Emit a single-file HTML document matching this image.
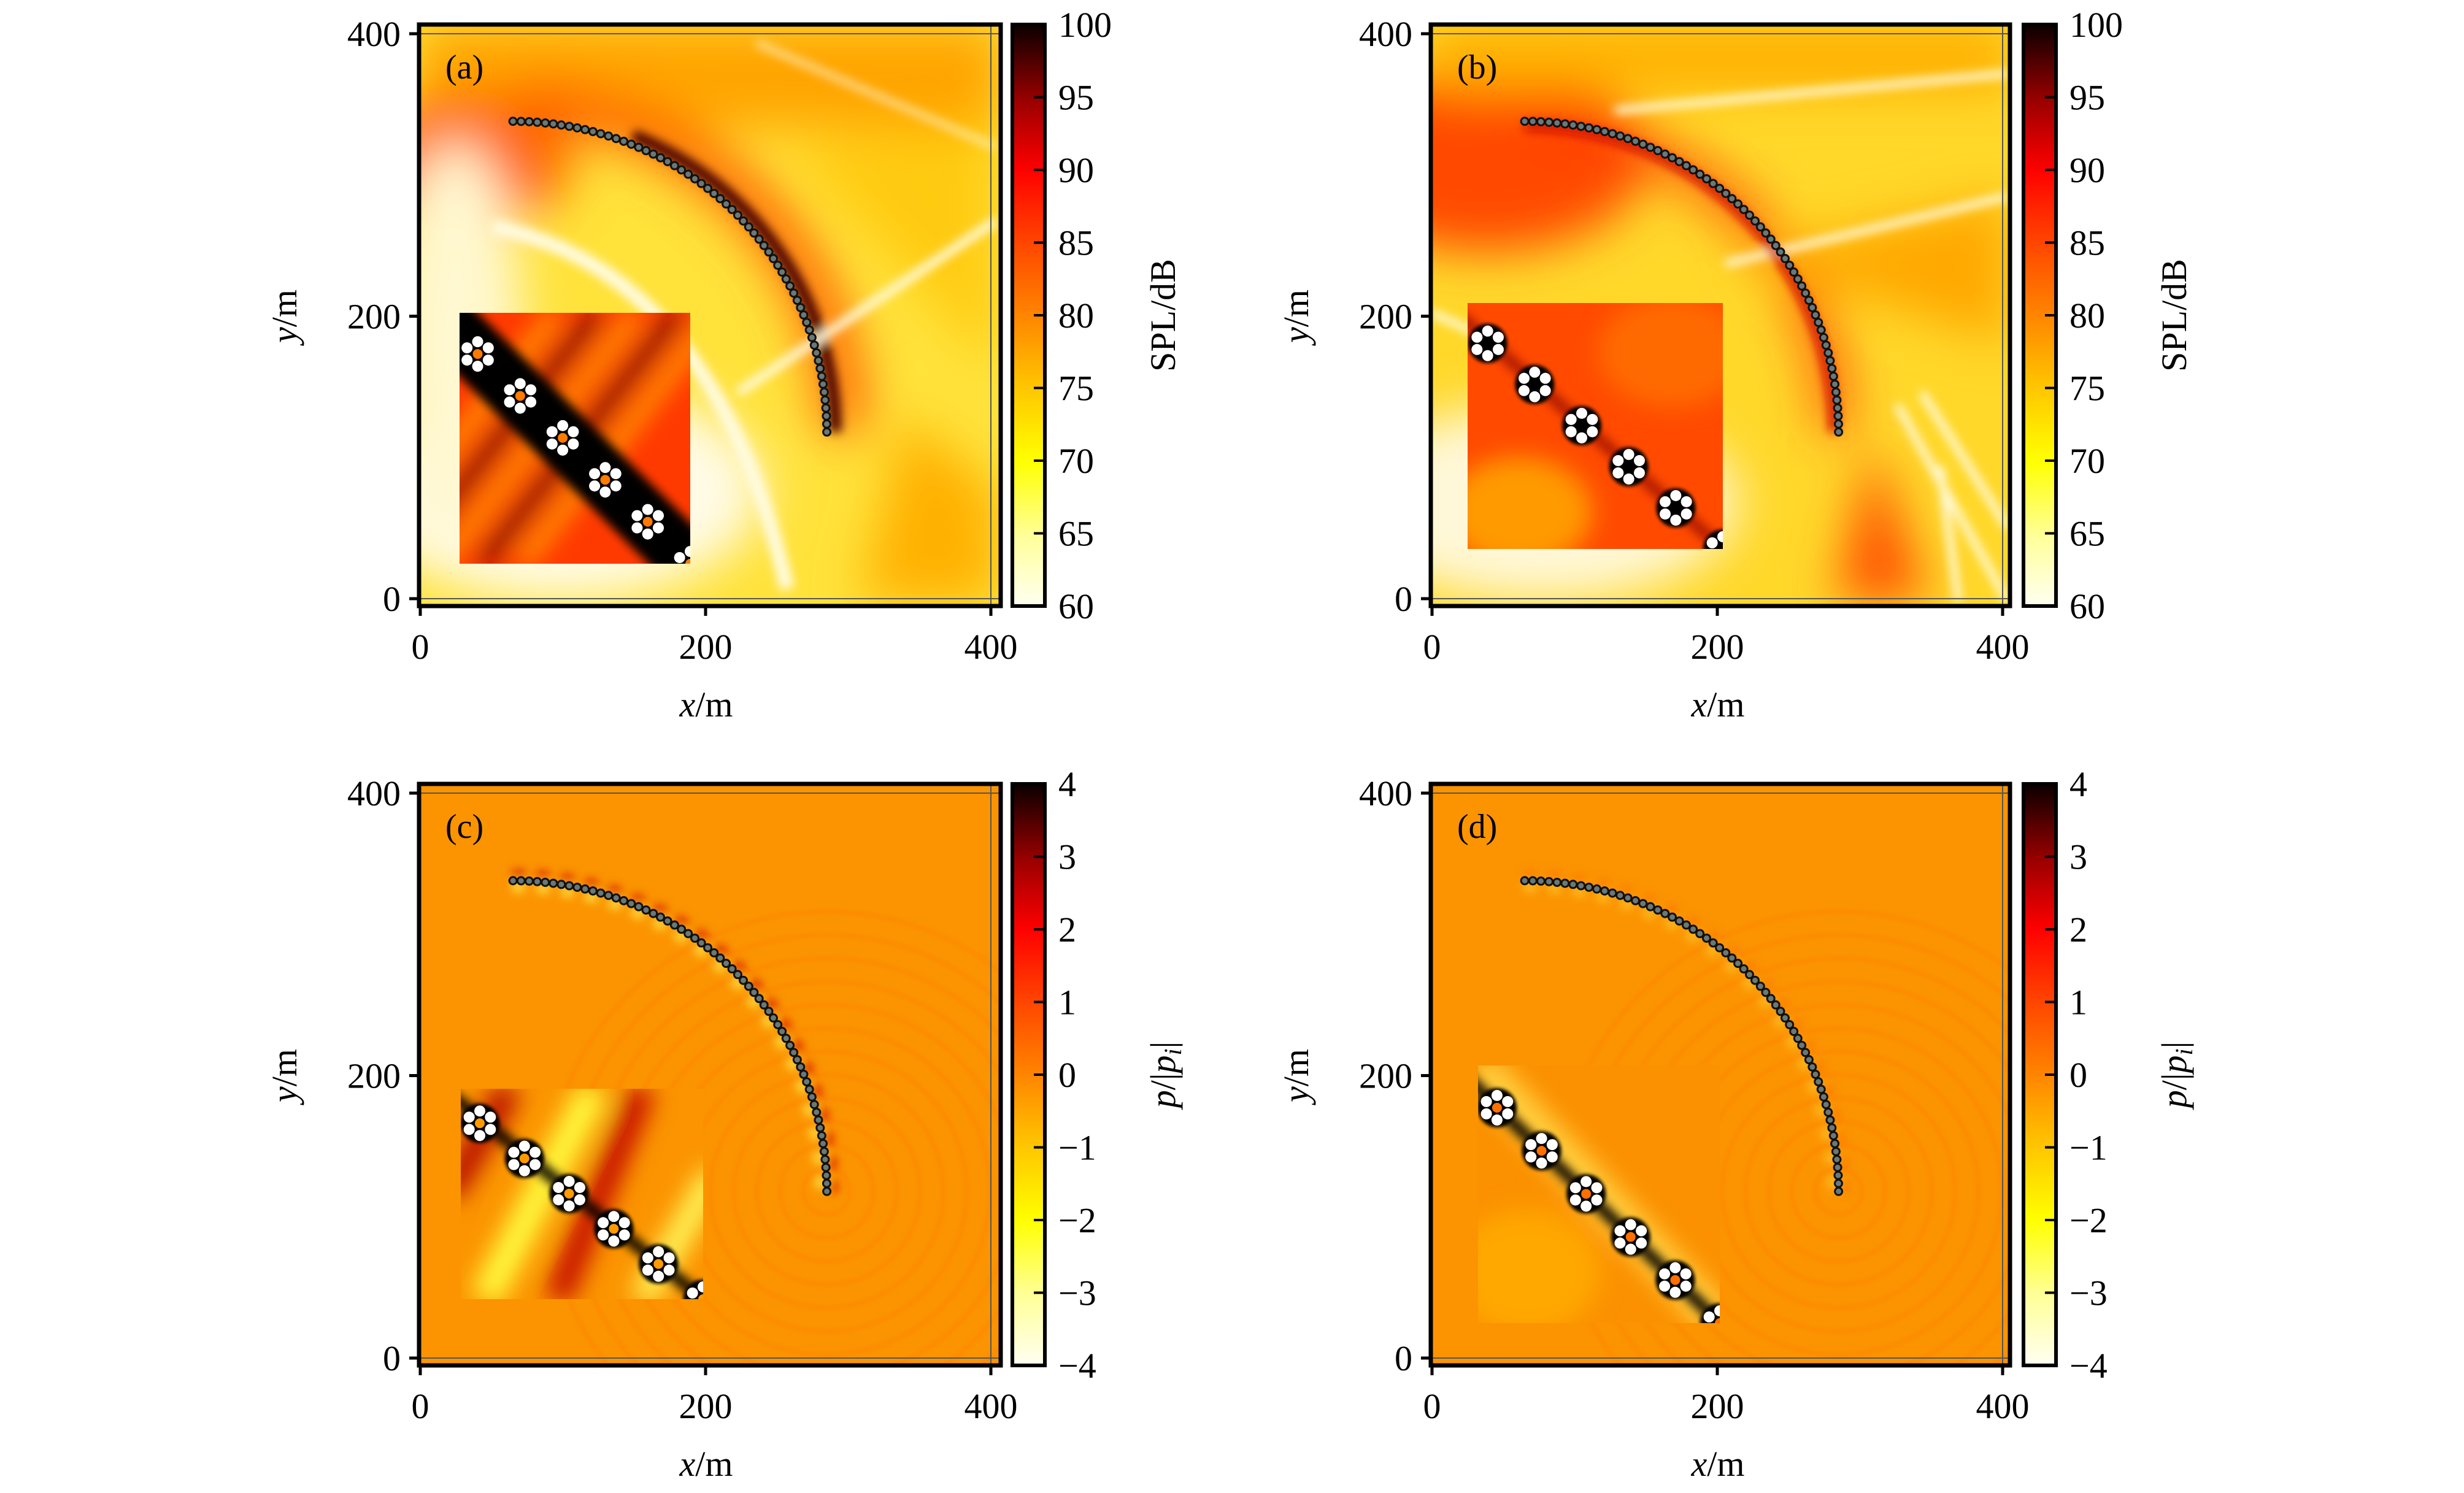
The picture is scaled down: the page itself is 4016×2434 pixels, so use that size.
<!DOCTYPE html>
<html><head><meta charset="utf-8">
<style>
html,body{margin:0;padding:0;background:#fff;width:4016px;height:2434px;overflow:hidden;}
svg{display:block;}
text{font-family:"Liberation Serif","DejaVu Serif",serif;fill:#000;}
</style></head>
<body>
<svg id="fig" width="4016" height="2434" viewBox="0 0 4016 2434" xmlns="http://www.w3.org/2000/svg">
<defs>
  <linearGradient id="hot" x1="0" y1="1" x2="0" y2="0">
    <stop offset="0" stop-color="#fffff2"/>
    <stop offset="0.12" stop-color="#ffff99"/>
    <stop offset="0.25" stop-color="#ffff00"/>
    <stop offset="0.38" stop-color="#ffc400"/>
    <stop offset="0.5" stop-color="#ff8500"/>
    <stop offset="0.62" stop-color="#ff4800"/>
    <stop offset="0.75" stop-color="#ff0000"/>
    <stop offset="0.87" stop-color="#990000"/>
    <stop offset="1" stop-color="#0a0000"/>
  </linearGradient>
  <filter id="blur40" x="-50%" y="-50%" width="200%" height="200%"><feGaussianBlur stdDeviation="40"/></filter>
  <filter id="blur20" x="-50%" y="-50%" width="200%" height="200%"><feGaussianBlur stdDeviation="20"/></filter>
  <filter id="blur8" x="-50%" y="-50%" width="200%" height="200%"><feGaussianBlur stdDeviation="8"/></filter>
  <filter id="blur3"><feGaussianBlur stdDeviation="3"/></filter>
</defs>
</svg>
<script>
// ---- data ----
const xTicks = [0, 200, 400];
const yTicks = [0, 200, 400];
const splTicks = [60, 65, 70, 75, 80, 85, 90, 95, 100];
const pTicks = [-4, -3, -2, -1, 0, 1, 2, 3, 4];
const arcCenter = [65, 118];
const arcRadius = 220;
const markerCount = 62;
const panelLabels = ['(a)', '(b)', '(c)', '(d)'];

const NS = 'http://www.w3.org/2000/svg';
const svg = document.getElementById('fig');
function mk(tag, attrs, parent){
  const e = document.createElementNS(NS, tag);
  for (const k in attrs) e.setAttribute(k, attrs[k]);
  (parent || svg).appendChild(e);
  return e;
}

const panels = [
  {L:683, T:40, R:1631, B:988, cbL:1650, kind:'a', ticks:splTicks, cbLabel:'SPL/dB', inset:[66,470,442,879]},
  {L:2332,T:40, R:3276, B:988, cbL:3298, kind:'b', ticks:splTicks, cbLabel:'SPL/dB', inset:[60,454,476,855]},
  {L:683, T:1278,R:1631,B:2226,cbL:1650, kind:'c', ticks:pTicks, cbLabel:'p', inset:[68,497,463,840]},
  {L:2332,T:1278,R:3276,B:2226,cbL:3298, kind:'d', ticks:pTicks, cbLabel:'p', inset:[77,459,471,879]}
];

panels.forEach((P, i) => {
  const sx = v => P.L + 2 + v * (930 / 400);
  const sy = v => P.T + 936 - v * (921 / 400);
  const W = P.R - P.L, H = P.B - P.T;
  const g = mk('g', {});
  
  
  const cid = 'clip' + i;
  const cp = mk('clipPath', {id: cid}, g);
  mk('rect', {x:P.L, y:P.T, width:W, height:H}, cp);
  const hm = mk('g', {'clip-path': 'url(#' + cid + ')'}, g);
  
  
  const cx = sx(arcCenter[0]), cy = sy(arcCenter[1]);
  const rx = arcRadius * 930 / 400, ry = arcRadius * 921 / 400;
  const arcPath = (dr) => `M ${cx} ${cy - ry - dr} A ${rx + dr} ${ry + dr} 0 0 1 ${cx + rx + dr} ${cy}`;

  if (P.kind === 'a' || P.kind === 'b') {
    mk('rect', {x:P.L, y:P.T, width:W, height:H, fill: P.kind==='a' ? '#ffe23a' : '#ffd82a'}, hm);
    const bl = mk('g', {filter:'url(#blur40)'}, hm);
    if (P.kind === 'a') {
      mk('rect', {x:P.L, y:P.T, width:W, height:170, fill:'#ffa400'}, bl);
      mk('ellipse', {cx:P.L+80, cy:P.T+220, rx:170, ry:110, fill:'#ff6a00'}, bl);
      mk('ellipse', {cx:P.L+230, cy:P.T+760, rx:330, ry:180, fill:'#fffbe6'}, bl);
      mk('ellipse', {cx:P.L+60, cy:P.T+520, rx:110, ry:330, fill:'#fff8d0'}, bl);
      mk('path', {d:`M ${P.L+720} ${P.T+940} L ${P.L+790} ${P.T+640} L ${P.L+940} ${P.T+760} L ${P.L+940} ${P.T+940} Z`, fill:'#ffb000'}, bl);
      mk('path', {d:`M ${P.L+600} ${P.T+200} L ${P.L+940} ${P.T+150} L ${P.L+940} ${P.T+560} Z`, fill:'#ffc000', opacity:0.7}, bl);
      mk('path', {d:arcPath(28), stroke:'#ff5a00', 'stroke-width':70, fill:'none'}, bl);
      const b2 = mk('g', {filter:'url(#blur8)'}, hm);
      mk('path', {d:arcPath(14), stroke:'#4a0000', 'stroke-width':20, fill:'none', 'stroke-dasharray':'0 200 1400'}, b2);
      mk('path', {d:`M ${P.L+520} ${P.T+600} L ${P.L+940} ${P.T+320}`, stroke:'#fffbe0', 'stroke-width':14}, b2);
      mk('path', {d:`M ${P.L+550} ${P.T+30} L ${P.L+940} ${P.T+200}`, stroke:'#fffbe0', 'stroke-width':10, opacity:0.7}, b2);
      mk('path', {d:`M ${P.L+120} ${P.T+330} Q ${P.L+480} ${P.T+400} ${P.L+600} ${P.T+920}`, stroke:'#fffbe0', 'stroke-width':24, fill:'none'}, b2);
    } else {
      mk('ellipse', {cx:P.L+90, cy:P.T+220, rx:260, ry:150, fill:'#ff4a00'}, bl);
      mk('rect', {x:P.L, y:P.T, width:W, height:110, fill:'#ffb000'}, bl);
      mk('ellipse', {cx:P.L+180, cy:P.T+780, rx:320, ry:160, fill:'#fff8d8'}, bl);
      mk('path', {d:`M ${P.L+660} ${P.T+940} L ${P.L+720} ${P.T+680} L ${P.L+810} ${P.T+940} Z`, fill:'#ff5000'}, bl);
      mk('path', {d:arcPath(-6), stroke:'#ff3a00', 'stroke-width':44, fill:'none'}, bl);
      mk('path', {d:`M ${P.L+500} ${P.T+380} L ${P.L+940} ${P.T+280} L ${P.L+940} ${P.T+520} Z`, fill:'#ffa800'}, bl);
      const b2 = mk('g', {filter:'url(#blur8)'}, hm);
      [[300,140,940,80],[480,390,940,280],[760,620,940,940],[800,600,940,820],[830,720,860,940],[0,470,300,600]].forEach(s=>{
        mk('line', {x1:P.L+s[0], y1:P.T+s[1], x2:P.L+s[2], y2:P.T+s[3], stroke:'#fffbe0', 'stroke-width':12}, b2);
      });
      mk('path', {d:arcPath(-8), stroke:'#d01000', 'stroke-width':16, fill:'none'}, b2);
    }
  } else {
    mk('rect', {x:P.L, y:P.T, width:W, height:H, fill:'#fb9400'}, hm);
    const rg = mk('g', {opacity:0.3, filter:'url(#blur3)'}, hm);
    for (let k = 1; k <= 12; k++) {
      mk('circle', {cx:sx(arcCenter[0]+arcRadius), cy:sy(arcCenter[1]), r:k*38, fill:'none', stroke:'#ff7a00', 'stroke-width':8}, rg);
    }
    const b2 = mk('g', {filter:'url(#blur8)'}, hm);
    mk('path', {d:arcPath(10), stroke: P.kind==='c' ? '#d00000' : '#ff5a00', 'stroke-width':14, fill:'none', 'stroke-dasharray':'18 22', opacity:P.kind==='c'?0.9:0.5}, b2);
    mk('path', {d:arcPath(-10), stroke:'#ffff60', 'stroke-width':14, fill:'none', 'stroke-dasharray':'18 22', opacity:P.kind==='c'?0.9:0.5}, b2);
  }
  mk('line', {x1:P.L, y1:sy(400), x2:P.R, y2:sy(400), stroke:'#555', 'stroke-width':2}, hm);
  mk('line', {x1:P.L, y1:sy(0), x2:P.R, y2:sy(0), stroke:'#555', 'stroke-width':2}, hm);
  mk('line', {x1:sx(400), y1:P.T, x2:sx(400), y2:P.B, stroke:'#555', 'stroke-width':2}, hm);

  const mg = mk('g', {}, g);
  
  
  for (let k = 0; k < markerCount; k++) {
    const a = Math.PI/2 - (Math.PI/2) * k / (markerCount - 1);
    const m = mk('circle', {cx:sx(arcCenter[0] + arcRadius*Math.cos(a)), cy:sy(arcCenter[1] + arcRadius*Math.sin(a)), r:6, fill:'#6a7878', stroke:'#111', 'stroke-width':3}, mg);
    
    
  }

  const [ix0, iy0, ix1, iy1] = P.inset;
  const IX = P.L + ix0, IY = P.T + iy0, IW = ix1 - ix0, IH = iy1 - iy0;
  const ig = mk('g', {}, g);
  
  
  const icid = 'iclip' + i;
  const icp = mk('clipPath', {id: icid}, ig);
  mk('rect', {x:IX, y:IY, width:IW, height:IH}, icp);
  const ic = mk('g', {'clip-path':'url(#' + icid + ')'}, ig);
  const baseCol = {a:'#ff3a00', b:'#ff4a00', c:'#fb9400', d:'#fb9000'}[P.kind];
  mk('rect', {x:IX, y:IY, width:IW, height:IH, fill:baseCol}, ic);
  const ib = mk('g', {filter:'url(#blur20)'}, ic);
  if (P.kind === 'a') {
    [0.1, 0.45, 0.8].forEach(t => mk('line', {x1:IX+t*IW-200, y1:IY+IH, x2:IX+t*IW+120, y2:IY, stroke:'#ffb000', 'stroke-width':22}, ib));
    [0.28, 0.63].forEach(t => mk('line', {x1:IX+t*IW-200, y1:IY+IH, x2:IX+t*IW+120, y2:IY, stroke:'#600000', 'stroke-width':22}, ib));
  } else if (P.kind === 'c') {
    mk('line', {x1:IX+0.1*IW, y1:IY+IH, x2:IX+0.55*IW, y2:IY, stroke:'#ffff40', 'stroke-width':50}, ib);
    mk('line', {x1:IX+0.4*IW, y1:IY+IH, x2:IX+0.75*IW, y2:IY, stroke:'#c00000', 'stroke-width':40}, ib);
    mk('line', {x1:IX-0.05*IW, y1:IY+IH*0.5, x2:IX+0.2*IW, y2:IY, stroke:'#b00000', 'stroke-width':40}, ib);
    mk('line', {x1:IX+0.75*IW, y1:IY+IH, x2:IX+1.05*IW, y2:IY+IH*0.4, stroke:'#ffff60', 'stroke-width':40}, ib);
  } else if (P.kind === 'b') {
    mk('ellipse', {cx:IX+IW*0.2, cy:IY+IH*0.85, rx:120, ry:90, fill:'#ff9a00'}, ib);
    mk('ellipse', {cx:IX+IW*0.8, cy:IY+IH*0.2, rx:120, ry:90, fill:'#ff6a00'}, ib);
  } else {
    mk('ellipse', {cx:IX+IW*0.2, cy:IY+IH*0.8, rx:120, ry:100, fill:'#ffa800'}, ib);
    mk('line', {x1:IX, y1:IY, x2:IX+IW, y2:IY+IH, stroke:'#ffd040', 'stroke-width':60}, ib);
  }
  const p0 = [IX + IW*0.03, IY + IH*0.12], p1 = [IX + IW*1.0, IY + IH*1.0];
  if (P.kind === 'a') mk('line', {x1:p0[0]-40, y1:p0[1]-40, x2:p1[0], y2:p1[1], stroke:'#000', 'stroke-width':95, filter:'url(#blur8)'}, ic);
  else mk('line', {x1:p0[0]-40, y1:p0[1]-40, x2:p1[0], y2:p1[1], stroke: P.kind==='b' ? '#800000' : '#000', 'stroke-width':20, opacity:P.kind==='b'?0.6:0.9, filter:'url(#blur8)'}, ic);
  const clusterCenterCol = {a:'#ff7a00', b:'#000', c:'#ff9a00', d:'#ff7000'}[P.kind];
  for (let k = 0; k < 6; k++) {
    const t = 0.05 + k * 0.19;
    const ccx = p0[0] + (p1[0]-p0[0]) * t, ccy = p0[1] + (p1[1]-p0[1]) * t;
    const cg = mk('g', {}, ic);
    
    
    mk('circle', {cx:ccx, cy:ccy, r:32, fill:'#000', filter:'url(#blur3)'}, cg);
    for (let j = 0; j < 6; j++) {
      const an = j * Math.PI / 3 + Math.PI/6;
      mk('circle', {cx:ccx + 20*Math.cos(an), cy:ccy + 20*Math.sin(an), r:9, fill:'#fff'}, cg);
    }
    mk('circle', {cx:ccx, cy:ccy, r:8, fill:clusterCenterCol}, cg);
  }

  const fr = mk('rect', {x:P.L, y:P.T, width:W, height:H, fill:'none', stroke:'#000', 'stroke-width':7}, g);
  
  

  xTicks.forEach(v => {
    mk('line', {x1:sx(v), y1:P.B, x2:sx(v), y2:P.B+16, stroke:'#000', 'stroke-width':5}, g);
    const t = mk('text', {x:sx(v), y:P.B+86, 'font-size':58, 'text-anchor':'middle'}, g);
    t.textContent = v;
    
    
  });
  yTicks.forEach(v => {
    mk('line', {x1:P.L-16, y1:sy(v), x2:P.L, y2:sy(v), stroke:'#000', 'stroke-width':5}, g);
    const t = mk('text', {x:P.L-30, y:sy(v)+20, 'font-size':58, 'text-anchor':'end'}, g);
    t.textContent = v;
    
    
  });
  const xl = mk('text', {x:P.L+468, y:P.B+180, 'font-size':58, 'text-anchor':'middle'}, g);
  xl.innerHTML = '<tspan font-style="italic">x</tspan>/m';
  
  
  const yl = mk('text', {x:0, y:0, 'font-size':58, 'text-anchor':'middle', transform:`translate(${P.L-200},${sy(200)}) rotate(-90)`}, g);
  yl.innerHTML = '<tspan font-style="italic">y</tspan>/m';
  
  
  const pl = mk('text', {x:P.L+43, y:P.T+88, 'font-size':56}, g);
  pl.textContent = panelLabels[i];
  
  

  const cb = mk('g', {}, g);
  
  
  mk('rect', {x:P.cbL, y:P.T, width:53, height:H, fill:'url(#hot)', stroke:'#000', 'stroke-width':6}, cb);
  const tmin = P.ticks[0], tmax = P.ticks[P.ticks.length-1];
  const cy2 = v => P.B - (v - tmin) / (tmax - tmin) * H;
  P.ticks.forEach(v => {
    mk('line', {x1:P.cbL+35, y1:cy2(v), x2:P.cbL+53, y2:cy2(v), stroke:'#000', 'stroke-width':4}, cb);
    const t = mk('text', {x:P.cbL+75, y:cy2(v)+20, 'font-size':58}, cb);
    t.textContent = v < 0 ? '\u2212' + (-v) : String(v);
    
    
  });
  const cl = mk('text', {x:0, y:0, 'font-size':58, 'text-anchor':'middle', transform:`translate(${P.cbL+265},${P.T+H/2}) rotate(-90)`}, cb);
  if (P.cbLabel === 'p') cl.innerHTML = '<tspan font-style="italic">p</tspan>/|<tspan font-style="italic">p</tspan><tspan font-style="italic" font-size="40" dy="10">i</tspan><tspan dy="-10">|</tspan>';
  else cl.textContent = P.cbLabel;
  
  
});
</script>
</body></html>
